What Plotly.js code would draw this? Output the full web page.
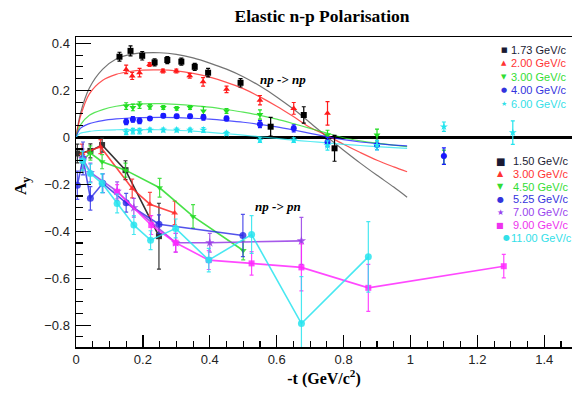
<!DOCTYPE html>
<html><head><meta charset="utf-8">
<script src="https://cdn.plot.ly/plotly-3.0.1.min.js"></script>
<style>html,body{margin:0;padding:0;background:#fff;}#chart{width:572px;height:399px;}</style>
</head><body><div id="chart"></div>
<script>
// ---------- np -> np (upper) data ----------
const npnp_labels = ["1.73 GeV/c", "2.00 GeV/c", "3.00 GeV/c", "4.00 GeV/c", "6.00 GeV/c"];
const npnp_x_173 = [0.130, 0.163, 0.198, 0.235, 0.273, 0.315, 0.355, 0.395, 0.492, 0.582, 0.681, 0.773];
const npnp_y_173 = [0.343, 0.368, 0.347, 0.319, 0.329, 0.322, 0.300, 0.275, 0.232, 0.045, 0.095, -0.047];
const npnp_e_173 = [0.019, 0.021, 0.018, 0.015, 0.015, 0.015, 0.015, 0.018, 0.018, 0.04, 0.035, 0.055];
const npnp_x_200 = [0.150, 0.168, 0.190, 0.220, 0.260, 0.300, 0.340, 0.380, 0.450, 0.550, 0.651, 0.752];
const npnp_y_200 = [0.289, 0.261, 0.275, 0.310, 0.282, 0.282, 0.262, 0.236, 0.204, 0.158, 0.123, 0.102];
const npnp_e_200 = [0.018, 0.015, 0.018, 0.008, 0.008, 0.008, 0.01, 0.018, 0.014, 0.02, 0.025, 0.05];
const npnp_x_300 = [0.150, 0.170, 0.190, 0.221, 0.261, 0.301, 0.341, 0.381, 0.450, 0.550, 0.752, 0.900, 1.100];
const npnp_y_300 = [0.133, 0.127, 0.137, 0.130, 0.127, 0.123, 0.127, 0.112, 0.112, 0.097, 0.010, 0.010, -0.085];
const npnp_e_300 = [0.014, 0.014, 0.014, 0.01, 0.008, 0.008, 0.008, 0.018, 0.01, 0.02, 0.02, 0.025, 0.03];
const npnp_x_400 = [0.150, 0.170, 0.190, 0.221, 0.261, 0.301, 0.341, 0.381, 0.450, 0.550, 0.651, 0.752, 0.900, 1.100];
const npnp_y_400 = [0.066, 0.076, 0.070, 0.080, 0.092, 0.090, 0.090, 0.085, 0.080, 0.056, 0.038, -0.020, -0.033, -0.080];
const npnp_e_400 = [0.012, 0.012, 0.012, 0.008, 0.008, 0.008, 0.008, 0.012, 0.01, 0.015, 0.015, 0.02, 0.02, 0.035];
const npnp_x_600 = [0.150, 0.170, 0.190, 0.221, 0.261, 0.301, 0.341, 0.381, 0.450, 0.550, 0.651, 0.752, 0.900, 1.100, 1.306];
const npnp_y_600 = [0.023, 0.026, 0.026, 0.031, 0.031, 0.031, 0.031, 0.031, 0.017, -0.012, -0.012, -0.035, -0.034, 0.045, 0.020];
const npnp_e_600 = [0.012, 0.012, 0.012, 0.008, 0.008, 0.008, 0.008, 0.01, 0.008, 0.01, 0.01, 0.02, 0.02, 0.02, 0.05];

// fitted curves
const fit_x = [0, 0.013, 0.04, 0.08, 0.12, 0.16, 0.2, 0.25, 0.3, 0.35, 0.4, 0.45, 0.5, 0.55, 0.6, 0.65, 0.7, 0.75, 0.8, 0.85, 0.9, 0.95, 0.99];
const fit_173 = [0, 0.10, 0.21, 0.29, 0.333, 0.352, 0.359, 0.360, 0.353, 0.338, 0.316, 0.29, 0.258, 0.218, 0.172, 0.12, 0.062, 0.002, -0.055, -0.11, -0.162, -0.212, -0.255];
const fit_200 = [0, 0.087, 0.185, 0.243, 0.268, 0.280, 0.286, 0.287, 0.283, 0.272, 0.256, 0.234, 0.207, 0.172, 0.132, 0.088, 0.042, 0.008, -0.03, -0.065, -0.098, -0.126, -0.147];
const fit_300 = [0, 0.052, 0.094, 0.118, 0.132, 0.139, 0.142, 0.143, 0.14, 0.135, 0.128, 0.118, 0.107, 0.093, 0.077, 0.058, 0.038, 0.018, -0.002, -0.015, -0.025, -0.033, -0.04];
const fit_400 = [0, 0.038, 0.058, 0.071, 0.078, 0.082, 0.084, 0.085, 0.084, 0.081, 0.077, 0.071, 0.064, 0.055, 0.044, 0.031, 0.017, 0.002, -0.01, -0.02, -0.027, -0.033, -0.037];
const fit_600 = [0, 0.017, 0.025, 0.03, 0.032, 0.033, 0.033, 0.032, 0.03, 0.026, 0.021, 0.015, 0.009, 0.002, -0.005, -0.012, -0.018, -0.024, -0.03, -0.035, -0.04, -0.044, -0.047];

// ---------- np -> pn (lower) data ----------
const nppn_labels = ["1.50 GeV/c", "3.00 GeV/c", "4.50 GeV/c", "5.25 GeV/c", "7.00 GeV/c", "9.00 GeV/c", "11.00 GeV/c"];
const nppn_x_150 = [0.004, 0.043, 0.078, 0.148, 0.248];
const nppn_y_150 = [-0.069, -0.058, -0.033, -0.140, -0.421];
const nppn_e_150 = [0.04, 0.03, 0.03, 0.04, 0.14];
const nppn_x_300 = [0.018, 0.073, 0.168, 0.221, 0.295];
const nppn_y_300 = [-0.069, -0.040, -0.218, -0.285, -0.322];
const nppn_e_300 = [0.04, 0.03, 0.04, 0.05, 0.05];
const nppn_x_450 = [0.018, 0.043, 0.078, 0.148, 0.250, 0.350, 0.500];
const nppn_y_450 = [-0.100, -0.067, -0.104, -0.140, -0.215, -0.337, -0.482];
const nppn_e_450 = [0.05, 0.03, 0.03, 0.03, 0.04, 0.05, 0.04];
const nppn_x_525 = [0.004, 0.021, 0.043, 0.080, 0.150, 0.248, 0.499];
const nppn_y_525 = [-0.204, -0.090, -0.260, -0.196, -0.279, -0.370, -0.418];
const nppn_e_525 = [0.06, 0.07, 0.05, 0.04, 0.04, 0.04, 0.09];
const nppn_x_700 = [0.020, 0.043, 0.123, 0.173, 0.298, 0.400, 0.674];
const nppn_y_700 = [-0.090, -0.150, -0.230, -0.300, -0.449, -0.449, -0.441];
const nppn_e_700 = [0.04, 0.04, 0.04, 0.04, 0.04, 0.04, 0.10];
const nppn_x_900 = [0.123, 0.225, 0.298, 0.397, 0.525, 0.674, 0.874, 1.279];
const nppn_y_900 = [-0.232, -0.374, -0.449, -0.523, -0.537, -0.554, -0.641, -0.549];
const nppn_e_900 = [0.03, 0.04, 0.04, 0.04, 0.05, 0.1, 0.1, 0.05];
const nppn_x_1100 = [0.020, 0.043, 0.078, 0.123, 0.173, 0.223, 0.298, 0.397, 0.525, 0.674, 0.874];
const nppn_y_1100 = [-0.100, -0.154, -0.196, -0.282, -0.374, -0.438, -0.388, -0.523, -0.414, -0.793, -0.509];
const nppn_e_1100 = [0.04, 0.04, 0.04, 0.04, 0.04, 0.04, 0.04, 0.05, 0.08, 0.2, 0.15];

// ---------- styles ----------
const C = {black:"#000000", red:"#ff1a1a", green:"#22dd22", blue:"#1a1aff", cyan:"#22e4ee", purple:"#9933ee", magenta:"#ff22ff"};
const TXT = {black:"#1a1a33", red:"#ff3333", green:"#33dd33", blue:"#3333dd", cyan:"#33e0e8", purple:"#9944ee", magenta:"#ee33ee"};

const traces = [];
function fitLine(y, col){
  traces.push({x: fit_x, y: y, mode:"lines", line:{color:col, width:1.2, shape:"spline", smoothing:0.8}, opacity:0.75, hoverinfo:"skip", showlegend:false});
}
function pts(x, y, e, col, sym, size, withLine){
  traces.push({x:x, y:y, mode: withLine ? "lines+markers" : "markers",
    line:{color:col, width:1.6},
    marker:{color:col, symbol:sym, size:size},
    error_y:{type:"data", array:e, visible:true, color:col, thickness:1.2, width:2},
    hoverinfo:"skip", showlegend:false});
}
fitLine(fit_173, "#444444");
fitLine(fit_200, C.red);
fitLine(fit_300, C.green);
fitLine(fit_400, C.blue);
fitLine(fit_600, C.cyan);
pts(npnp_x_173, npnp_y_173, npnp_e_173, C.black, "square", 6, false);
pts(npnp_x_200, npnp_y_200, npnp_e_200, C.red, "triangle-up", 6, false);
pts(npnp_x_300, npnp_y_300, npnp_e_300, C.green, "triangle-down", 6, false);
pts(npnp_x_400, npnp_y_400, npnp_e_400, C.blue, "circle", 6, false);
pts(npnp_x_600, npnp_y_600, npnp_e_600, C.cyan, "star", 6, false);

pts(nppn_x_150, nppn_y_150, nppn_e_150, "#333333", "square", 6, true);
pts(nppn_x_300, nppn_y_300, nppn_e_300, "rgba(255,40,40,0.85)", "triangle-up", 6, true);
pts(nppn_x_450, nppn_y_450, nppn_e_450, "rgba(40,220,40,0.85)", "triangle-down", 6, true);
pts(nppn_x_525, nppn_y_525, nppn_e_525, "rgba(40,40,230,0.8)", "circle", 7, true);
pts(nppn_x_700, nppn_y_700, nppn_e_700, "rgba(150,60,230,0.85)", "star", 7, true);
pts(nppn_x_900, nppn_y_900, nppn_e_900, "rgba(255,40,255,0.85)", "square", 6, true);
pts(nppn_x_1100, nppn_y_1100, nppn_e_1100, "rgba(40,228,238,0.85)", "circle", 7, true);

// ---------- legends as text annotations ----------
const leg1_colors = [TXT.black, TXT.red, TXT.green, TXT.blue, TXT.cyan];
const leg1_glyphs = ["■", "▲", "▼", "●", "★"];
const leg2_colors = [TXT.black, TXT.red, TXT.green, TXT.blue, TXT.purple, TXT.magenta, TXT.cyan];
const leg2_glyphs = ["■", "▲", "▼", "●", "★", "■", "●"];
const annotations = [];
const W = 572, H = 399;
const px = v => (v - 76) / 496;
const py = v => (347 - v) / 310;
npnp_labels.forEach((t, i) => {
  const yy = 50 + i * 13.4;
  annotations.push({xref:"paper", yref:"paper", x:px(504), y:py(yy), text:leg1_glyphs[i], showarrow:false,
    font:{family:"DejaVu Sans", size:7, color:leg1_colors[i]}, xanchor:"center", yanchor:"middle"});
  annotations.push({xref:"paper", yref:"paper", x:px(509), y:py(yy), text:t, showarrow:false,
    font:{family:"Liberation Sans, Arial", size:11, color:leg1_colors[i]}, xanchor:"left", yanchor:"middle"});
});
nppn_labels.forEach((t, i) => {
  const yy = 161 + i * 12.8;
  const last = (i === nppn_labels.length - 1);
  annotations.push({xref:"paper", yref:"paper", x:px(last ? 506 : 500), y:py(yy), text:leg2_glyphs[i], showarrow:false,
    font:{family:"DejaVu Sans", size: i === 0 ? 10 : 8, color:leg2_colors[i]}, xanchor:"center", yanchor:"middle"});
  annotations.push({xref:"paper", yref:"paper", x:px(last ? 509 : 511), y:py(yy), text:t, showarrow:false,
    font:{family:"Liberation Sans, Arial", size:11, color:leg2_colors[i]}, xanchor:"left", yanchor:"middle"});
});
annotations.push({xref:"paper", yref:"paper", x:px(283), y:py(80), text:"<b><i>np -&gt; np</i></b>", showarrow:false,
  font:{family:"Liberation Serif, Times New Roman", size:13, color:"#000"}, xanchor:"center", yanchor:"middle"});
annotations.push({xref:"paper", yref:"paper", x:px(278), y:py(206), text:"<b><i>np -&gt; pn</i></b>", showarrow:false,
  font:{family:"Liberation Serif, Times New Roman", size:13, color:"#000"}, xanchor:"center", yanchor:"middle"});
annotations.push({xref:"paper", yref:"paper", x:px(22), y:py(186), text:"<b>A<sub>y</sub></b>", showarrow:false, textangle:-90,
  font:{family:"Liberation Serif, Times New Roman", size:17, color:"#000"}, xanchor:"center", yanchor:"middle"});

const layout = {
  width: W, height: H,
  margin:{l:76, r:0, t:37, b:52, pad:0},
  paper_bgcolor:"#fff", plot_bgcolor:"#fff",
  showlegend:false,
  title:{text:"<b>Elastic n-p Polarisation</b>", x:322/W, xref:"container", xanchor:"center", y:1-16/H, yref:"container", yanchor:"middle",
    font:{family:"Liberation Serif, Times New Roman", size:17.5, color:"#000"}},
  xaxis:{range:[0, 1.483], showgrid:false, zeroline:false, showline:true, linecolor:"#000", linewidth:1.5, mirror:true,
    ticks:"inside", ticklen:12, tickwidth:1.3, tickcolor:"#000", dtick:0.2, tick0:0,
    minor:{ticks:"inside", ticklen:6, tickwidth:1.1, tickcolor:"#000", dtick:0.05, showgrid:false},
    tickfont:{family:"Liberation Sans, Arial", size:13, color:"#222"},
    title:{text:"<b>-t (GeV/c<sup>2</sup>)</b>", standoff:6, font:{family:"Liberation Serif, Times New Roman", size:16, color:"#000"}}},
  yaxis:{range:[-0.893, 0.427], showgrid:false, zeroline:true, zerolinecolor:"#000", zerolinewidth:2.5,
    showline:true, linecolor:"#000", linewidth:1.5,
    ticks:"inside", ticklen:15, tickwidth:1.3, tickcolor:"#000", dtick:0.2, tick0:0,
    minor:{ticks:"inside", ticklen:7, tickwidth:1.1, tickcolor:"#000", dtick:0.05, showgrid:false},
    tickfont:{family:"Liberation Sans, Arial", size:13, color:"#222"}, ticklabelstandoff:2},
  annotations: annotations
};
Plotly.newPlot("chart", traces, layout, {displayModeBar:false, staticPlot:true});
</script></body></html>
